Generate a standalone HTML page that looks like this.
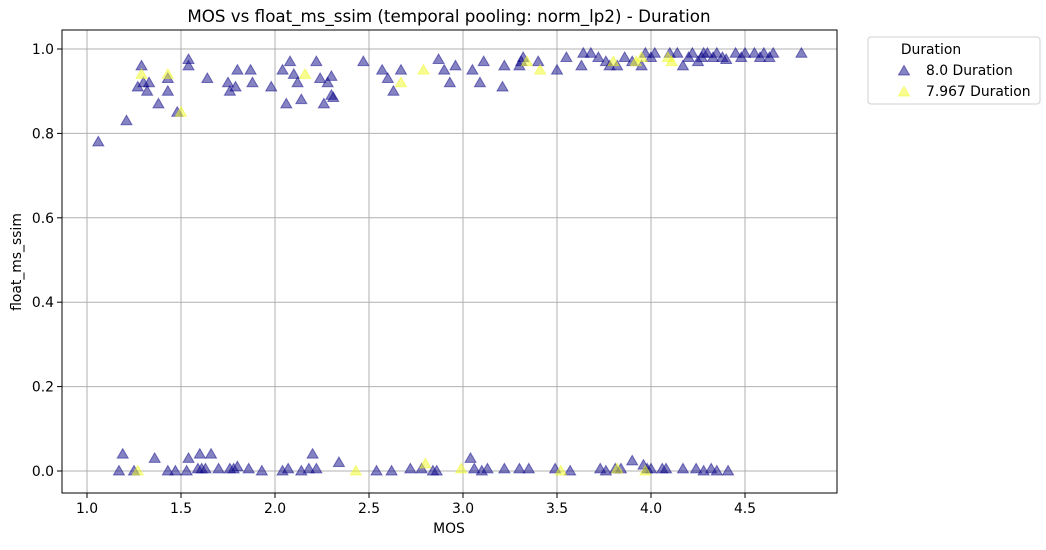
<!DOCTYPE html>
<html><head><meta charset="utf-8"><style>
body{margin:0;background:#fff;font-family:"Liberation Sans","DejaVu Sans",sans-serif}
svg text{font-family:"DejaVu Sans","Liberation Sans",sans-serif;fill:#000}
</style></head><body>
<svg id="c" width="1046" height="545" xmlns="http://www.w3.org/2000/svg"></svg>
<script>
const xTicks=[1.0,1.5,2.0,2.5,3.0,3.5,4.0,4.5];
const yTicks=[0.0,0.2,0.4,0.6,0.8,1.0];
const blueX=[1.06,1.21,1.27,1.29,1.30,1.32,1.33,1.38,1.43,1.43,1.48,1.54,1.54,1.64,1.75,1.76,1.79,1.80,1.87,1.88,1.98,2.04,2.06,2.08,2.10,2.12,2.14,2.22,2.24,2.26,2.28,2.30,2.30,2.31,2.47,2.57,2.60,2.63,2.67,2.87,2.90,2.93,2.96,3.05,3.09,3.11,3.21,3.22,3.30,3.32,3.31,3.40,3.50,3.55,3.63,3.64,3.68,3.72,3.76,3.78,3.82,3.86,3.90,3.95,3.97,4.00,4.02,4.10,4.14,4.17,4.20,4.22,4.25,4.27,4.28,4.30,4.33,4.35,4.38,4.40,4.45,4.48,4.50,4.55,4.58,4.60,4.63,4.65,4.80,
1.17,1.19,1.25,1.36,1.43,1.47,1.53,1.54,1.59,1.60,1.61,1.63,1.66,1.70,1.76,1.78,1.80,1.86,1.93,2.04,2.07,2.14,2.18,2.20,2.22,2.34,2.54,2.62,2.72,2.78,2.84,2.86,3.04,3.06,3.10,3.13,3.22,3.30,3.35,3.49,3.57,3.73,3.76,3.81,3.84,3.90,3.96,3.98,4.00,4.06,4.08,4.17,4.24,4.28,4.32,4.35,4.41];
const blueY=[0.78,0.83,0.91,0.96,0.92,0.90,0.92,0.87,0.90,0.93,0.85,0.975,0.96,0.93,0.92,0.90,0.91,0.95,0.95,0.92,0.91,0.95,0.87,0.97,0.94,0.92,0.88,0.97,0.93,0.87,0.92,0.935,0.89,0.885,0.97,0.95,0.93,0.90,0.95,0.975,0.95,0.92,0.96,0.95,0.92,0.97,0.91,0.96,0.96,0.98,0.97,0.97,0.95,0.98,0.96,0.99,0.99,0.98,0.97,0.96,0.96,0.98,0.97,0.96,0.99,0.98,0.99,0.99,0.99,0.96,0.98,0.99,0.97,0.98,0.99,0.99,0.98,0.99,0.98,0.975,0.99,0.98,0.99,0.99,0.98,0.99,0.98,0.99,0.99,
0.00,0.04,0.00,0.03,0.00,0.00,0.00,0.03,0.005,0.04,0.005,0.005,0.04,0.005,0.005,0.005,0.01,0.005,0.00,0.00,0.005,0.00,0.005,0.04,0.005,0.02,0.00,0.00,0.005,0.005,0.00,0.00,0.03,0.005,0.00,0.005,0.005,0.005,0.005,0.005,0.00,0.005,0.00,0.005,0.005,0.024,0.014,0.005,0.005,0.005,0.005,0.005,0.005,0.00,0.005,0.00,0.00];
const yellowX=[1.29,1.43,1.50,2.16,2.67,2.79,3.34,3.41,3.80,3.92,3.95,4.09,4.11,1.27,2.43,2.80,2.99,3.52,3.82,3.97];
const yellowY=[0.94,0.94,0.85,0.94,0.92,0.95,0.97,0.95,0.97,0.97,0.98,0.98,0.97,0.00,0.00,0.017,0.005,0.00,0.005,0.00];

const L=62,R=837,T=30,B=493;
const sx=v=>87+(v-1)*188;
const sy=v=>471-v*422;
const svg=document.getElementById('c');
const NS='http://www.w3.org/2000/svg';
function mk(tag,attrs,parent){const e=document.createElementNS(NS,tag);for(const k in attrs)e.setAttribute(k,attrs[k]);(parent||svg).appendChild(e);return e;}

const grid=mk('g',{});


xTicks.forEach(t=>{mk('line',{x1:sx(t),x2:sx(t),y1:T,y2:B,stroke:'#b0b0b0','stroke-width':1},grid);});
yTicks.forEach(t=>{mk('line',{x1:L,x2:R,y1:sy(t),y2:sy(t),stroke:'#b0b0b0','stroke-width':1},grid);});

const xa=mk('g',{});


xTicks.forEach(t=>{mk('line',{x1:sx(t),x2:sx(t),y1:B,y2:B+5,stroke:'#000'},xa);const tx=mk('text',{x:sx(t),y:B+20,'text-anchor':'middle','font-size':13.9},xa);tx.textContent=t.toFixed(1);});
const ya=mk('g',{});


yTicks.forEach(t=>{mk('line',{x1:L-5,x2:L,y1:sy(t),y2:sy(t),stroke:'#000'},ya);const tx=mk('text',{x:L-8,y:sy(t)+5,'text-anchor':'end','font-size':13.9},ya);tx.textContent=t.toFixed(1);});

function tri(x,y,fill,p){return mk('polygon',{points:`${x},${y-5.5} ${x-5.5},${y+4} ${x+5.5},${y+4}`,fill:fill,'fill-opacity':0.5,stroke:fill,'stroke-opacity':0.5,'stroke-width':1},p);}
const sb=mk('g',{});


blueX.forEach((v,i)=>{const p=tri(sx(v),sy(blueY[i]),'#0d0887',sb);});
const syl=mk('g',{});


yellowX.forEach((v,i)=>{const p=tri(sx(v),sy(yellowY[i]),'#f0f921',syl);});

const fr=mk('rect',{x:L,y:T,width:R-L,height:B-T,fill:'none',stroke:'#000','stroke-width':1});



const title=mk('text',{x:449,y:22,'text-anchor':'middle','font-size':16.7});title.textContent='MOS vs float_ms_ssim (temporal pooling: norm_lp2) - Duration';


const xl=mk('text',{x:449,y:533,'text-anchor':'middle','font-size':13.9});xl.textContent='MOS';


const yl=mk('text',{x:0,y:0,'text-anchor':'middle','font-size':13.9,transform:'translate(21,262) rotate(-90)'});yl.textContent='float_ms_ssim';



const lg=mk('g',{});


mk('rect',{x:868,y:37,width:172,height:67,rx:3,fill:'#fff',stroke:'#d0d0d0'},lg);
const lt=mk('text',{x:931,y:54,'text-anchor':'middle','font-size':13.9},lg);lt.textContent='Duration';
const e1=mk('g',{},lg);


tri(904,71,'#0d0887',e1);const t1=mk('text',{x:926,y:75,'font-size':13.9},e1);t1.textContent='8.0 Duration';
const e2=mk('g',{},lg);


tri(904,92,'#f0f921',e2);const t2=mk('text',{x:926,y:96,'font-size':13.9},e2);t2.textContent='7.967 Duration';
</script>
</body></html>
